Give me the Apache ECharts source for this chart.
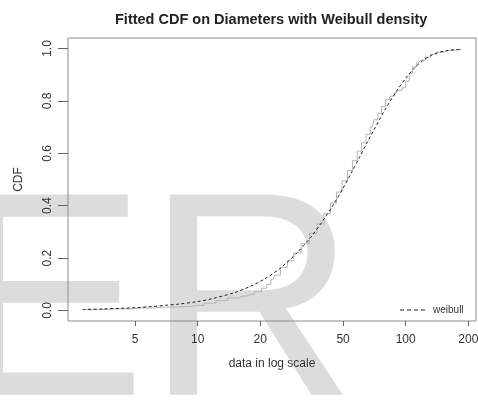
<!DOCTYPE html>
<html>
<head>
<meta charset="utf-8">
<script src="https://cdn.jsdelivr.net/npm/echarts@6/dist/echarts.min.js"></script>
<style>
  html, body { margin: 0; padding: 0; background: #fff; }
  #chart { width: 478px; height: 402px; }
</style>
</head>
<body>
<div id="chart"></div>
<script>
// fitted weibull cdf (dashed)
var fitX = [2.8, 3.5, 4.5, 5, 6, 7, 8, 10, 12, 15, 18, 21, 25, 30, 35, 40, 45, 50, 55, 60,
            65, 70, 75, 80, 90, 100, 110, 120, 130, 140, 160, 186];
var fitY = [0.004, 0.006, 0.009, 0.011, 0.015, 0.02, 0.024, 0.034, 0.047, 0.068, 0.093, 0.121,
            0.162, 0.22, 0.28, 0.343, 0.405, 0.467, 0.528, 0.585, 0.638, 0.686, 0.73, 0.77,
            0.835, 0.886, 0.925, 0.952, 0.97, 0.982, 0.993, 0.997];

// empirical cdf (grey steps)
var empX = [2.8, 4, 5.5, 7, 8.5, 10, 11.5, 13, 15, 16.5, 18, 19.5, 21, 22, 23, 24, 26, 28, 30,
            33, 36, 39, 42, 45, 48, 51, 54, 57, 60, 63, 66, 69, 72, 75, 78, 82, 86, 90, 94,
            98, 102, 106, 110, 115, 120, 128, 136, 146, 160, 186];
var empY = [0.003, 0.006, 0.010, 0.013, 0.015, 0.02, 0.028, 0.038, 0.048, 0.055, 0.062, 0.072,
            0.085, 0.1, 0.118, 0.135, 0.165, 0.19, 0.22, 0.255, 0.295, 0.33, 0.37, 0.41,
            0.452, 0.495, 0.535, 0.572, 0.608, 0.64, 0.672, 0.7, 0.728, 0.752, 0.778, 0.805,
            0.818, 0.83, 0.84, 0.85, 0.875, 0.905, 0.93, 0.945, 0.955, 0.967, 0.978, 0.986,
            0.993, 0.997];

var xTicks = [5, 10, 20, 50, 100, 200];
var yTicks = [0, 0.2, 0.4, 0.6, 0.8, 1.0];

function pairs(xs, ys) {
  return xs.map(function (x, i) { return [x, ys[i]]; });
}

var font = '"Liberation Sans", Arial, sans-serif';
var chart = echarts.init(document.getElementById('chart'));

chart.setOption({
  animation: false,
  backgroundColor: '#fff',
  textStyle: { fontFamily: font },
  title: {
    text: 'Fitted CDF on Diameters with Weibull density',
    left: 110, top: 7,
    textStyle: { fontSize: 14.5, fontWeight: 'bold', color: '#222', fontFamily: font }
  },
  // big grey "ER" watermark behind the plot
  graphic: [{
    type: 'text', z: -10, silent: true,
    style: { x: -48, y: 169, text: 'ER', font: '291px "Liberation Sans"', fill: '#dcdcdc', verticalAlign: 'top' }
  }],
  legend: {
    left: 400, top: 305, padding: 0,
    data: ['weibull'],
    itemWidth: 25, itemHeight: 2,
    icon: 'path://M0,0L4,0L4,1L0,1ZM7,0L11,0L11,1L7,1ZM14,0L18,0L18,1L14,1ZM21,0L25,0L25,1L21,1Z',
    textStyle: { fontSize: 10, color: '#333', fontFamily: font, padding: [0, 0, 0, 3] }
  },
  grid: {
    left: 68, right: 2, top: 38, bottom: 81,
    outerBoundsMode: 'none',
    show: true, borderColor: '#8a8a8a', borderWidth: 1
  },
  xAxis: {
    type: 'log', logBase: 10, min: 2.38, max: 217.8,
    name: 'data in log scale', nameLocation: 'middle', nameGap: 37,
    nameTextStyle: { fontSize: 12, color: '#333' },
    axisLine: { show: false, onZero: false },
    splitLine: { show: false },
    minorTick: { show: false },
    axisTick: { customValues: xTicks, inside: false, length: 5, lineStyle: { color: '#666' } },
    axisLabel: { customValues: xTicks, margin: 13, fontSize: 12, color: '#333',
                 formatter: function (v) { return String(Math.round(v)); } }
  },
  yAxis: {
    type: 'value', min: -0.04, max: 1.04,
    name: 'CDF', nameLocation: 'middle', nameGap: 43, nameRotate: 90,
    nameTextStyle: { fontSize: 12, color: '#333' },
    axisLine: { show: false, onZero: false },
    splitLine: { show: false },
    axisTick: { customValues: yTicks, inside: false, length: 10, lineStyle: { color: '#666' } },
    axisLabel: { customValues: yTicks, rotate: 90, margin: 14, fontSize: 12, color: '#333',
                 formatter: function (v) { return v.toFixed(1); } }
  },
  series: [{
    name: 'empirical', type: 'line', step: 'middle', symbol: 'none',
    data: pairs(empX, empY),
    lineStyle: { color: '#b4b4b4', width: 1 },
    itemStyle: { color: '#b4b4b4' }
  }, {
    name: 'weibull', type: 'line', symbol: 'none', smooth: 0.3,
    data: pairs(fitX, fitY),
    lineStyle: { color: '#222', width: 1, type: [3, 2.5] },
    itemStyle: { color: '#222' }
  }]
});
</script>
</body>
</html>
